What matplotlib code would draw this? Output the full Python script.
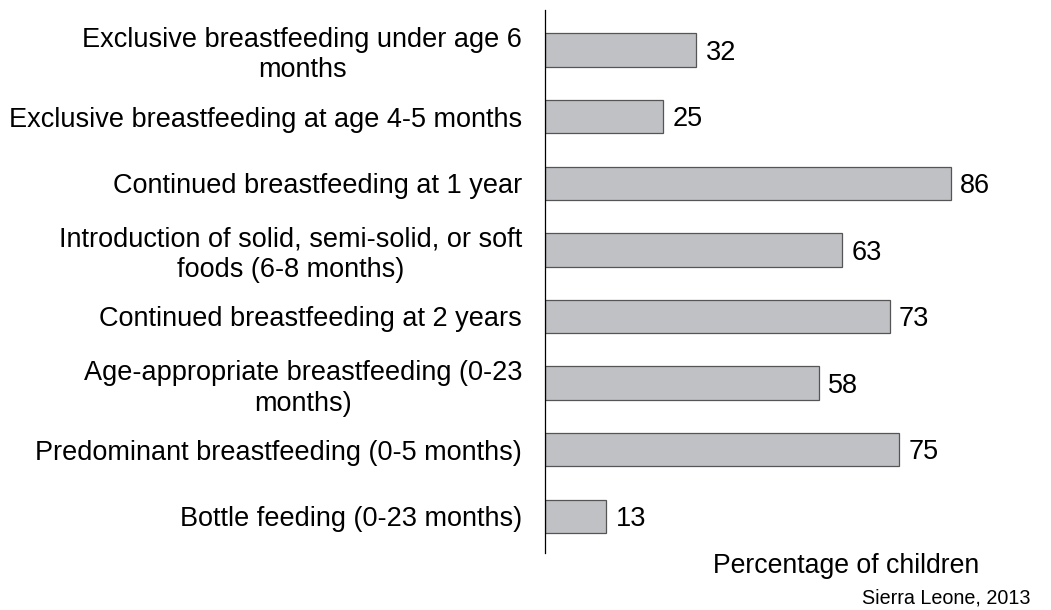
import numpy as np
import matplotlib.pyplot as plt

plt.rcParams['font.family'] = ['Liberation Sans', 'DejaVu Sans']

categories = [
    "Exclusive breastfeeding under age 6\nmonths",
    "Exclusive breastfeeding at age 4-5 months",
    "Continued breastfeeding at 1 year",
    "Introduction of solid, semi-solid, or soft\nfoods (6-8 months)",
    "Continued breastfeeding at 2 years",
    "Age-appropriate breastfeeding (0-23\nmonths)",
    "Predominant breastfeeding (0-5 months)",
    "Bottle feeding (0-23 months)",
]
values = [32, 25, 86, 63, 73, 58, 75, 13]

fig = plt.figure(figsize=(10.51, 6.10), dpi=100)
ax = fig.add_axes([0.5186, 0.0934, 0.449, 0.8902])

y = np.arange(len(values))[::-1]
ax.barh(y, values, height=0.5, color='#c0c1c5', edgecolor='#555555', linewidth=0.9)

for yi, v in zip(y, values):
    ax.text(v + 2, yi - 0.04, str(v), va='center', ha='left', fontsize=19.5, color='black')

ax.set_xlim(0, 100)
ax.set_ylim(-0.55, 7.6)
ax.set_yticks(y)
ax.set_yticklabels(categories, fontsize=19.5, multialignment='center', linespacing=1.22)
ax.tick_params(axis='y', length=0, pad=16.5)
ax.set_xticks([])
for s in ['top', 'right', 'bottom']:
    ax.spines[s].set_visible(False)
ax.spines['left'].set_linewidth(0.9)

fig.text(846 / 1051, 1 - 566 / 610, "Percentage of children", ha='center', va='center', fontsize=19.2)
fig.text(1030 / 1051, 1 - 598 / 610, "Sierra Leone, 2013", ha='right', va='center', fontsize=14.2)

fig.savefig('out.png', dpi=100)
